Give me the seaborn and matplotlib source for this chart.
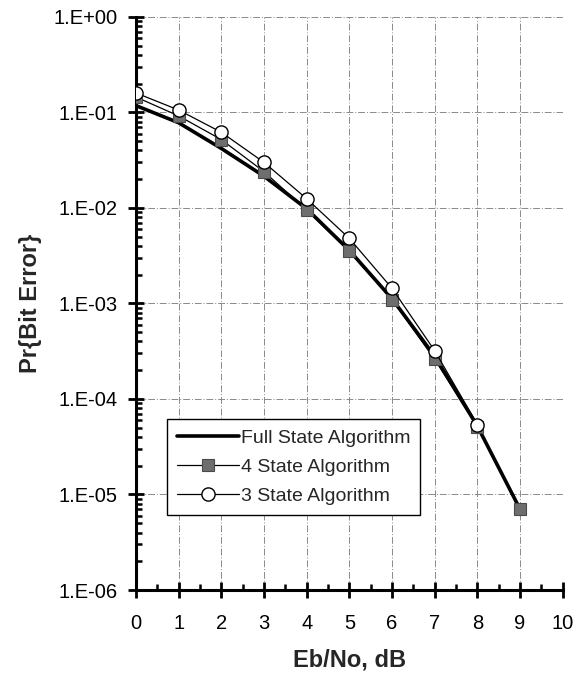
import numpy as np
import pandas as pd
import matplotlib
matplotlib.use("Agg")
import matplotlib.pyplot as plt
import matplotlib.ticker as mticker
import seaborn as sns

# ── Data ──
ebno_full  = [0, 1, 2, 3, 4, 5, 6, 7, 8, 9]
ber_full   = [0.118, 0.078, 0.042, 0.0215, 0.0098, 0.0036, 0.00112, 0.00028, 5.2e-5, 7.0e-6]

ebno_4     = [0, 1, 2, 3, 4, 5, 6, 7, 8, 9]
ber_4      = [0.145, 0.092, 0.052, 0.024, 0.0095, 0.0035, 0.0011, 0.00026, 5.1e-5, 7.0e-6]

ebno_3     = [0, 1, 2, 3, 4, 5, 6, 7, 8]
ber_3      = [0.16, 0.106, 0.062, 0.030, 0.0125, 0.0048, 0.00144, 0.00032, 5.4e-5]

x_ticks    = list(range(0, 11))
y_ticks    = [1e-6, 1e-5, 1e-4, 1e-3, 1e-2, 1e-1, 1e0]

sns.set_style("white")
plt.rcParams["font.family"] = ["Liberation Sans", "DejaVu Sans"]

fig = plt.figure(figsize=(5.76, 6.77), dpi=100)
ax = fig.add_axes([0.236, 0.1285, 0.741, 0.8465])

df_full = pd.DataFrame({"x": ebno_full, "y": ber_full})
df_4 = pd.DataFrame({"x": ebno_4, "y": ber_4})
df_3 = pd.DataFrame({"x": ebno_3, "y": ber_3})

sns.lineplot(data=df_full, x="x", y="y", ax=ax, color="black",
             linewidth=2.6, label="Full State Algorithm", zorder=4)
sns.lineplot(data=df_4, x="x", y="y", ax=ax, color="black",
             linewidth=0.9, marker="s", markersize=8.5,
             markerfacecolor="#6e6e6e", markeredgecolor="#4a4a4a",
             markeredgewidth=0.8, label="4 State Algorithm", zorder=5)
sns.lineplot(data=df_3, x="x", y="y", ax=ax, color="black",
             linewidth=0.9, marker="o", markersize=9.5,
             markerfacecolor="white", markeredgecolor="black",
             markeredgewidth=1.0, label="3 State Algorithm", zorder=6)

ax.set_yscale("log")
ax.set_xlim(0, 10)
ax.set_ylim(1e-6, 1e0)
ax.set_xticks(x_ticks)
ax.set_yticks(y_ticks)
ax.xaxis.set_minor_locator(mticker.MultipleLocator(0.5))
ax.yaxis.set_minor_locator(mticker.LogLocator(base=10, subs=np.arange(2, 10)))
ax.yaxis.set_minor_formatter(mticker.NullFormatter())
ax.yaxis.set_major_formatter(mticker.FuncFormatter(
    lambda v, _: f"1.E{int(round(np.log10(v))):+03d}"))

ax.grid(which="major", color="#8a8a8a", linestyle=(0, (7, 2, 1, 2)),
        linewidth=0.7)
for s in ["top", "right"]:
    ax.spines[s].set_visible(False)
for s in ["left", "bottom"]:
    ax.spines[s].set_linewidth(2.2)
    ax.spines[s].set_color("black")

ax.tick_params(axis="both", which="major", direction="inout", length=11,
               width=2, colors="black", labelsize=14.5, labelcolor="black")
ax.tick_params(axis="x", which="major", pad=12, bottom=True)
ax.tick_params(axis="y", which="major", pad=8, left=True)
ax.tick_params(axis="both", which="minor", direction="in", length=4.5,
               width=1.8, colors="black", bottom=True, left=True)

ax.set_xlabel("Eb/No, dB", fontsize=17, fontweight="bold", labelpad=11)
ax.set_ylabel("Pr{Bit Error}", fontsize=17, fontweight="bold", labelpad=8)

leg = ax.legend(loc="upper left", bbox_to_anchor=(0.073, 0.298),
                fontsize=14, frameon=True, fancybox=False,
                handlelength=3.2, handletextpad=0.1, labelspacing=0.6,
                borderpad=0.5, borderaxespad=0)
leg.get_frame().set_edgecolor("black")
leg.get_frame().set_linewidth(1.0)
leg.get_frame().set_alpha(1)

fig.savefig("out.png", dpi=100, facecolor="white")
